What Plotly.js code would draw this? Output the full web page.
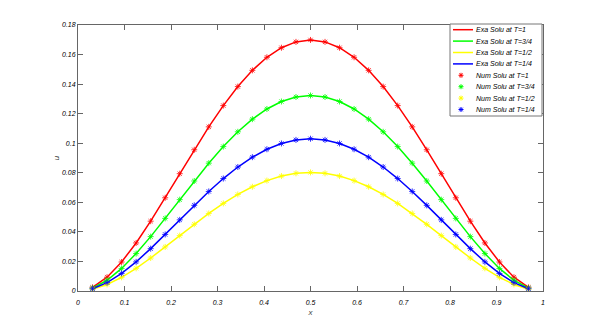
<!DOCTYPE html>
<html><head><meta charset="utf-8">
<script src="https://cdn.plot.ly/plotly-3.0.1.min.js"></script>
<style>html,body{margin:0;padding:0;background:#fff}#chart{width:599px;height:327px}</style>
</head><body><div id="chart"></div>
<script>
const xs = [0.03125,0.0625,0.09375,0.125,0.15625,0.1875,0.21875,0.25,0.28125,0.3125,0.34375,0.375,0.40625,0.4375,0.46875,0.5,0.53125,0.5625,0.59375,0.625,0.65625,0.6875,0.71875,0.75,0.78125,0.8125,0.84375,0.875,0.90625,0.9375,0.96875];
const uT1 = [0.00249,0.00933,0.01962,0.03252,0.04725,0.06309,0.07939,0.09556,0.11108,0.12547,0.13833,0.14932,0.15816,0.16462,0.16857,0.16989,0.16857,0.16462,0.15816,0.14932,0.13833,0.12547,0.11108,0.09556,0.07939,0.06309,0.04725,0.03252,0.01962,0.00933,0.00249];
const uT34 = [0.00194,0.00727,0.01528,0.02533,0.03680,0.04913,0.06183,0.07443,0.08651,0.09772,0.10773,0.11629,0.12317,0.12821,0.13128,0.13231,0.13128,0.12821,0.12317,0.11629,0.10773,0.09772,0.08651,0.07443,0.06183,0.04913,0.03680,0.02533,0.01528,0.00727,0.00194];
const uT12 = [0.00118,0.00441,0.00927,0.01536,0.02232,0.02980,0.03750,0.04514,0.05247,0.05927,0.06534,0.07053,0.07471,0.07776,0.07962,0.08025,0.07962,0.07776,0.07471,0.07053,0.06534,0.05927,0.05247,0.04514,0.03750,0.02980,0.02232,0.01536,0.00927,0.00441,0.00118];
const uT14 = [0.00151,0.00566,0.01190,0.01972,0.02866,0.03827,0.04815,0.05796,0.06737,0.07610,0.08390,0.09057,0.09593,0.09985,0.10224,0.10305,0.10224,0.09985,0.09593,0.09057,0.08390,0.07610,0.06737,0.05796,0.04815,0.03827,0.02866,0.01972,0.01190,0.00566,0.00151];
const labelsExa = ['Exa Solu at T=1','Exa Solu at T=3/4','Exa Solu at T=1/2','Exa Solu at T=1/4'];
const labelsNum = ['Num Solu at T=1','Num Solu at T=3/4','Num Solu at T=1/2','Num Solu at T=1/4'];
const series = [uT1, uT34, uT12, uT14];
const colors = ['#ff0000','#00ff00','#ffff00','#0000ff'];

const W = 599, H = 327;
const M = {l:78, r:56, t:25, b:36};
const pw = W - M.l - M.r, ph = H - M.t - M.b;
const px2x = p => (p - M.l) / pw;
const py2y = p => (H - M.b - p) / ph;

const traces = [];
series.forEach((s,i)=>traces.push({x:xs,y:s,type:'scatter',mode:'lines',name:labelsExa[i],showlegend:false,line:{color:colors[i],width:1.5}}));
series.forEach((s,i)=>traces.push({x:xs,y:s,type:'scatter',mode:'markers',name:labelsNum[i],showlegend:false,marker:{symbol:'asterisk-open',size:5,color:colors[i],opacity:0.8,line:{color:colors[i],width:1}}}));

// manual MATLAB-style legend (pixel layout converted to paper coords)
const shapes = [], annotations = [];
const lgL = 450, lgR = 542, lgT = 24, lgB = 116;
shapes.push({type:'rect',xref:'paper',yref:'paper',x0:px2x(lgL),x1:px2x(lgR),y0:py2y(lgB),y1:py2y(lgT),fillcolor:'#fff',line:{color:'#777',width:1},layer:'above'});
const labels = labelsExa.concat(labelsNum);
const lf = {family:'Liberation Sans, Arial, sans-serif',size:7,style:'italic',color:'#000'};
labels.forEach((lab,j)=>{
  const py = 29.7 + j*11.4;
  const c = colors[j%4];
  if (j < 4) {
    shapes.push({type:'line',xref:'paper',yref:'paper',x0:px2x(453),x1:px2x(473),y0:py2y(py),y1:py2y(py),line:{color:c,width:1.5},layer:'above'});
  } else {
    const cx = 461, r = 2.5, d = 1.8;
    const p = `M${px2x(cx-r)},${py2y(py)}L${px2x(cx+r)},${py2y(py)}M${px2x(cx)},${py2y(py-r)}L${px2x(cx)},${py2y(py+r)}M${px2x(cx-d)},${py2y(py-d)}L${px2x(cx+d)},${py2y(py+d)}M${px2x(cx-d)},${py2y(py+d)}L${px2x(cx+d)},${py2y(py-d)}`;
    shapes.push({type:'path',xref:'paper',yref:'paper',path:p,line:{color:c,width:1},layer:'above'});
  }
  annotations.push({xref:'paper',yref:'paper',x:px2x(474),y:py2y(py),xanchor:'left',yanchor:'middle',showarrow:false,text:lab,font:lf});
});

const tf = {family:'Liberation Sans, Arial, sans-serif',size:7,style:'italic',color:'#000'};
const axCommon = {showgrid:false,zeroline:false,showline:true,linecolor:'#666',linewidth:1,mirror:'ticks',ticks:'inside',ticklen:5,tickcolor:'#666',tickfont:tf};
const layout = {
  width:W,height:H,
  margin:M,
  paper_bgcolor:'#fff',plot_bgcolor:'#fff',
  xaxis:Object.assign({},axCommon,{range:[0,1],dtick:0.1,tick0:0,ticklabelstandoff:5,title:{text:'x',font:{family:'Liberation Sans',size:8,style:'italic'},standoff:3}}),
  yaxis:Object.assign({},axCommon,{range:[0,0.18],dtick:0.02,tick0:0,title:{text:'u',font:{family:'Liberation Sans',size:8,style:'italic'},standoff:1}}),
  shapes:shapes,annotations:annotations,
  showlegend:false
};
Plotly.newPlot('chart',traces,layout,{staticPlot:true});
</script></body></html>
